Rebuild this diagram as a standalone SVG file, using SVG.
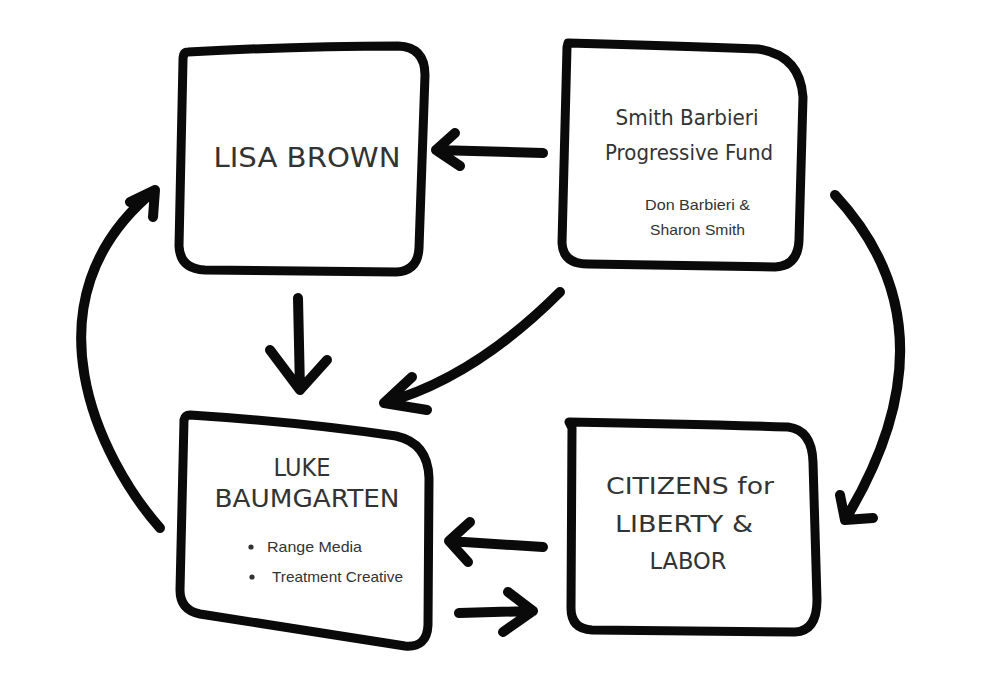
<svg xmlns="http://www.w3.org/2000/svg" width="1000" height="677" viewBox="0 0 1000 677">
<style>
.box{fill:#fff;stroke:#0a0a0a;stroke-width:9;stroke-linejoin:round;stroke-linecap:round}
.arr{fill:none;stroke:#0a0a0a;stroke-width:10;stroke-linecap:round;stroke-linejoin:round}
.title{font-family:"DejaVu Sans","Liberation Sans",sans-serif;fill:#333;text-anchor:middle}
.small{font-family:"Liberation Sans",Arial,sans-serif;fill:#333;font-size:15px}
</style>
<rect width="1000" height="677" fill="#fff"/>
<g id="node-lisa">
<path class="box" d="M188,52 Q300,46 398,46 Q425,47 425,75 L419,248 Q418,271 396,272 L205,270 Q180,269 179,246 L183,60 Q183,52 188,52 Z"/>
<text class="title" x="307" y="167" font-size="26" textLength="187" lengthAdjust="spacingAndGlyphs">LISA BROWN</text>
</g>
<g id="node-smith">
<path class="box" d="M568,43 Q680,46 758,49 Q800,55 803,97 L799,240 Q798,266 775,267 L588,264 Q563,264 562,243 L567,47 Z"/>
<text class="title" x="687" y="125" font-size="21" textLength="143" lengthAdjust="spacingAndGlyphs">Smith Barbieri</text>
<text class="title" x="689" y="160" font-size="21" textLength="168" lengthAdjust="spacingAndGlyphs">Progressive Fund</text>
<text class="small" x="645" y="210" textLength="105" lengthAdjust="spacingAndGlyphs">Don Barbieri &amp;</text>
<text class="small" x="650" y="235" textLength="95" lengthAdjust="spacingAndGlyphs">Sharon Smith</text>
</g>
<g id="node-luke">
<path class="box" d="M190,415 Q300,422 396,436 Q428,443 429,478 L428,625 Q427,648 405,646 Q300,630 200,614 Q180,610 180,590 L184,420 Q185,415 190,415 Z"/>
<text class="title" x="302" y="476" font-size="24" textLength="57" lengthAdjust="spacingAndGlyphs">LUKE</text>
<text class="title" x="307" y="507" font-size="24" textLength="185" lengthAdjust="spacingAndGlyphs">BAUMGARTEN</text>
<circle cx="251" cy="547" r="2.6" fill="#333"/>
<circle cx="252" cy="577" r="2.6" fill="#333"/>
<text class="small" x="267" y="552" textLength="95" lengthAdjust="spacingAndGlyphs">Range Media</text>
<text class="small" x="272" y="582" textLength="131" lengthAdjust="spacingAndGlyphs">Treatment Creative</text>
</g>
<g id="node-citizens">
<path class="box" d="M569,422 Q690,424 788,427 Q812,430 813,462 L817,600 Q817,631 795,632 L592,630 Q571,629 571,608 L572,428 Z"/>
<text class="title" x="690" y="494" font-size="23" textLength="168" lengthAdjust="spacingAndGlyphs">CITIZENS for</text>
<text class="title" x="684" y="532" font-size="23" textLength="138" lengthAdjust="spacingAndGlyphs">LIBERTY &amp;</text>
<text class="title" x="688" y="569" font-size="23" textLength="77" lengthAdjust="spacingAndGlyphs">LABOR</text>
</g>
<g id="connectors">
<path class="arr" d="M543,153 L436,150 M455,133 L436,150 L460,166"/>
<path class="arr" d="M298,298 L300,390 M270,350 L300,390 L327,360"/>
<path class="arr" d="M560,292 Q474,378 384,403 M412,377 L384,403 L427,410"/>
<path class="arr" d="M160,528 C100,460 20,300 155,190 M130,202 L155,190 L153,217"/>
<path class="arr" d="M835,195 Q960,330 845,520 M840,495 L845,520 L873,518"/>
<path class="arr" d="M543,547 L449,541 M470,522 L449,541 L468,562"/>
<path class="arr" d="M459,613 L533,611 M508,592 L533,611 L503,632"/>
</g>
</svg>
